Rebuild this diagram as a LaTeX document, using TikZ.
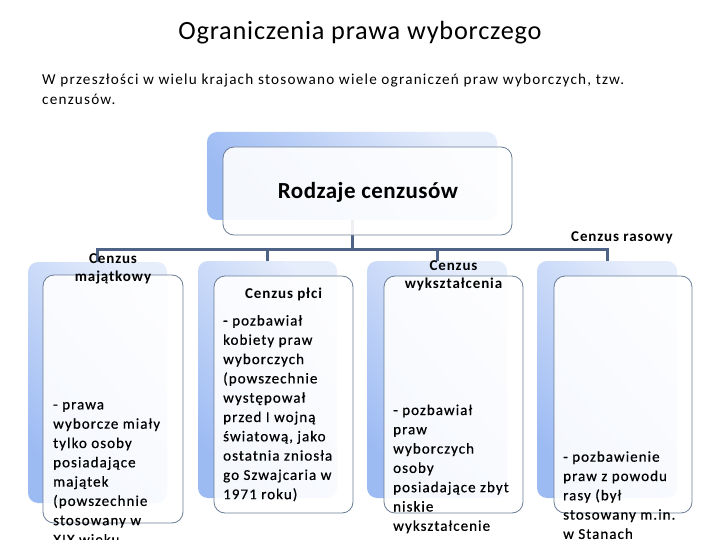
\documentclass[tikz,border=0pt]{standalone}
\usepackage{fontspec}
\setmainfont{Carlito}
\newfontfamily\titlefont[LetterSpace=3]{Carlito}
\newfontfamily\subfont[LetterSpace=8]{Carlito}
\newfontfamily\bodyfont[LetterSpace=7,FakeBold=0.5]{Carlito}
\newfontfamily\headfont[LetterSpace=6]{Carlito}
\newfontfamily\rodzfont[LetterSpace=2]{Carlito}
\definecolor{connclr}{HTML}{4E6386}
\definecolor{frameclr}{HTML}{6A7D96}
\definecolor{backlight}{HTML}{E6EDFB}
\definecolor{backdark}{HTML}{9DBBF3}
\newcommand\lns[1]{\begin{tabular}[t]{@{}l@{}}#1\end{tabular}}
\newcommand\clns[1]{\begin{tabular}[t]{@{}c@{}}#1\end{tabular}}
\begin{document}
\begin{tikzpicture}[x=1pt,y=-1pt,
  back/.style={rectangle, rounded corners=10pt, draw=none, top color=backlight, bottom color=backdark, shading angle=-50, inner sep=0pt, outer sep=0pt},
  front/.style={rectangle, rounded corners=11pt, draw=frameclr, line width=0.8pt, fill=white, fill opacity=0.9, inner sep=0pt},
  conn/.style={draw=connclr, line width=3pt},
  body/.style={inner sep=0pt, anchor=base west, font=\bodyfont\fontsize{15}{19.3}\selectfont},
  head/.style={inner sep=0pt, anchor=base, font=\headfont\bfseries\fontsize{15}{18.2}\selectfont}]
\fill[white] (0,0) rectangle (720,540);
\useasboundingbox (0,0) rectangle (720,540);

% title
\node[anchor=base, inner sep=0pt, font=\titlefont\fontsize{26.3}{30}\selectfont] (title) at (360,40) {Ograniczenia prawa wyborczego};
\node[anchor=base west, inner sep=0pt, font=\subfont\fontsize{15.2}{19.8}\selectfont] (intro) at (42,84.5)
  {\lns{W przeszłości w wielu krajach stosowano wiele ograniczeń praw wyborczych, tzw.\\cenzusów.}};

% back boxes
\node[back, minimum width=290pt, minimum height=88pt] (tb) at (352,176) {};
\node[back, minimum width=139pt, minimum height=241pt] (b1) at (97.5,382.5) {};
\node[back, minimum width=139pt, minimum height=237pt] (b2) at (267.5,379.5) {};
\node[back, minimum width=140pt, minimum height=237pt] (b3) at (437,379.5) {};
\node[back, minimum width=140pt, minimum height=237pt] (b4) at (607,379.5) {};

% connectors
\coordinate (bus) at (352,249);
\draw[conn] (tb.south) -- (bus);
\draw[conn] (b1.north) -- (b1.north |- bus) -- (b4.north |- bus) -- (b4.north);
\draw[conn] (b2.north |- bus) -- (b2.north);
\draw[conn] (b3.north |- bus) -- (b3.north);

% front boxes
\node[front, minimum width=140pt, minimum height=88pt, minimum width=289pt] (tf) at (367.5,191) {};
\node[front, minimum width=140pt, minimum height=248pt] (f1) at (113,399) {};
\node[front, minimum width=139pt, minimum height=237pt] (f2) at (283.5,394.5) {};
\node[front, minimum width=139pt, minimum height=237pt] (f3) at (453.5,394.5) {};
\node[front, minimum width=138pt, minimum height=237pt] (f4) at (623,394.5) {};

% texts
\node[anchor=base, inner sep=0pt, font=\rodzfont\bfseries\fontsize{23}{28}\selectfont] (rodz) at (368,199) {Rodzaje cenzusów};

\node[head] (h1) at (113,263.5) {\clns{Cenzus\\majątkowy}};
\node[head] (h2) at (283.5,298.5) {Cenzus płci};
\node[head] (h3) at (453.5,270) {\clns{Cenzus\\wykształcenia}};
\node[head] (h4) at (622,241.5) {Cenzus rasowy};

\node[body] (t1) at (53,409.4) {\lns{- prawa\\wyborcze miały\\tylko osoby\\posiadające\\majątek\\(powszechnie\\stosowany w\\XIX wieku}};
\node[body] (t2) at (223,325.5) {\lns{- pozbawiał\\kobiety praw\\wyborczych\\(powszechnie\\występował\\przed I wojną\\światową, jako\\ostatnia zniosła\\go Szwajcaria w\\1971 roku)}};
\node[body] (t3) at (393,415) {\lns{- pozbawiał\\praw\\wyborczych\\osoby\\posiadające zbyt\\niskie\\wykształcenie}};
\node[body] (t4) at (563,461.7) {\lns{- pozbawienie\\praw z powodu\\rasy (był\\stosowany m.in.\\w Stanach}};
\end{tikzpicture}
\end{document}
